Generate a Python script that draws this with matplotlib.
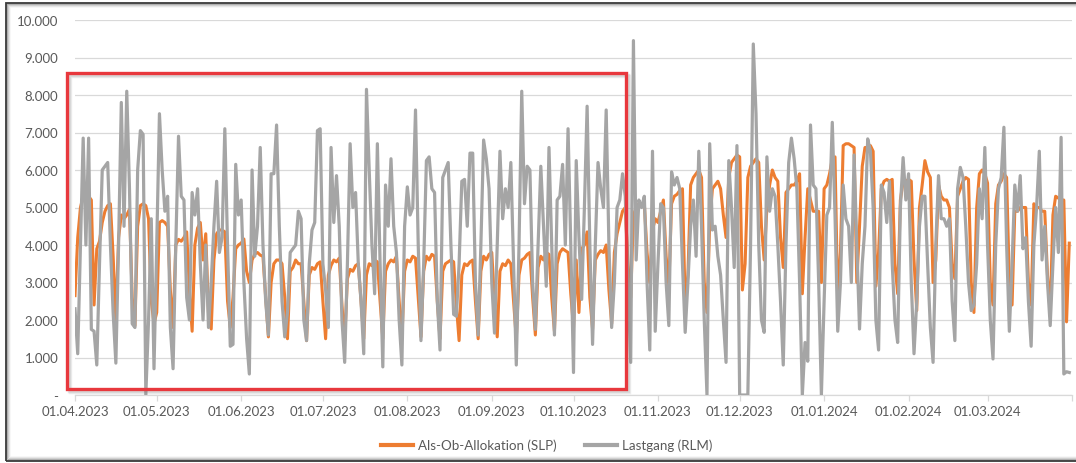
import numpy as np
import pandas as pd
import matplotlib
matplotlib.use("Agg")
import matplotlib.pyplot as plt
from matplotlib.patches import Rectangle

# ----------------------
# Data (daily values, thousands)
# ----------------------
start_date = "2023-04-01"
n_days = 366

# Als-Ob-Allokation (SLP), one row per week (Sat..Fri)
slp = [
    2.65, 4.2, 5.0, 5.3, 5.2, 5.3, 5.2,
    2.4, 3.9, 4.1, 4.6, 4.9, 5.05, 5.1,
    3.7, 2.0, 4.2, 4.8, 4.7, 4.8, 4.95,
    2.6, 1.85, 4.5, 5.05, 5.1, 5.05, 4.7,
    2.5, 1.9, 2.2, 4.6, 4.65, 4.6, 4.5,
    2.8, 1.8, 4.0, 4.15, 4.1, 4.2, 4.35,
    2.8, 1.7, 4.0, 4.45, 4.6, 3.6, 4.3,
    2.2, 1.76, 3.6, 4.3, 4.4, 4.4, 4.35,
    2.5, 1.8, 2.6, 3.9, 4.0, 4.05, 4.16,
    3.3, 3.0, 3.6, 3.76, 3.8, 3.73, 3.7,
    2.6, 1.55, 3.0, 3.5, 3.6, 3.6, 3.5,
    2.6, 1.5, 3.3, 3.4, 3.6, 3.5, 3.5,
    2.5, 1.45, 3.2, 3.4, 3.35, 3.5, 3.55,
    2.5, 1.5, 3.2, 3.45, 3.6, 3.55, 3.65,
    2.4, 1.45, 3.1, 3.35, 3.3, 3.45, 3.5,
    2.5, 1.5, 3.2, 3.5, 3.45, 3.6, 3.55,
    2.5, 1.5, 3.3, 3.5, 3.6, 3.55, 3.7,
    2.5, 1.5, 3.3, 3.6, 3.55, 3.7, 3.65,
    2.6, 1.55, 3.3, 3.7, 3.6, 3.75, 3.7,
    2.5, 1.5, 3.3, 3.5, 3.55, 3.6, 3.55,
    2.4, 1.45, 3.2, 3.5, 3.45, 3.55, 3.6,
    2.5, 1.5, 3.3, 3.7, 3.6, 3.75, 3.8,
    2.5, 1.55, 3.3, 3.5, 3.45, 3.6, 3.5,
    2.5, 1.5, 3.2, 3.6, 3.65, 3.75, 3.8,
    2.6, 1.6, 3.4, 3.7, 3.6, 3.8, 3.75,
    2.6, 1.7, 3.5, 3.8, 3.9, 3.85, 3.8,
    2.7, 1.8, 3.6, 2.2, 3.9, 4.0, 4.35,
    2.6, 1.76, 3.6, 3.75, 3.85, 3.8, 4.0,
    2.8, 1.9, 3.8, 4.3, 4.6, 4.9, 5.0,
    3.5, 2.6, 4.8, 5.0, 5.1, 5.1, 5.1,
    3.8, 3.0, 4.4, 4.7, 4.6, 4.9, 5.2,
    3.7, 2.9, 5.1, 5.3, 5.35, 5.45, 5.5,
    2.4, 3.2, 5.6, 5.8, 5.9, 6.0, 5.8,
    3.0, 2.2, 4.6, 5.5, 5.6, 5.7, 5.5,
    4.8, 4.2, 5.8, 6.2, 6.3, 6.4, 6.35,
    2.8, 3.5, 5.8, 6.1, 6.2, 6.3, 6.2,
    4.5, 3.6, 5.0, 5.6, 6.0, 5.8, 5.7,
    4.2, 3.4, 5.4, 5.5, 5.6, 5.6, 5.7,
    5.9, 2.7, 4.2, 5.5, 5.2, 4.9, 4.9,
    4.9, 3.0, 5.5, 5.6, 5.9, 6.3, 6.35,
    2.5, 3.8, 6.65, 6.7, 6.7, 6.65, 6.6,
    3.0, 4.5, 6.1, 6.6, 6.6, 6.65, 6.5,
    2.9, 3.8, 5.5, 5.7, 5.75, 5.7, 5.75,
    3.5, 2.7, 5.2, 5.7, 5.7, 5.75, 5.7,
    3.6, 2.25, 5.0, 5.6, 6.25, 5.95, 5.8,
    3.0, 3.6, 5.6, 5.3, 5.2, 5.2, 5.0,
    3.5, 3.1, 5.3, 5.5, 5.7, 5.8, 5.75,
    3.0, 2.2, 5.0, 5.9, 6.0, 5.9, 5.65,
    3.0, 2.4, 5.1, 5.6, 5.7, 5.9, 5.8,
    3.0, 2.4, 4.9, 4.9, 5.0, 5.0, 5.0,
    3.0, 2.4, 5.1, 5.0, 5.0, 4.9, 4.9,
    3.2, 2.2, 4.8, 5.3, 5.25, 5.2, 5.2,
    1.95, 4.05,
]

# Lastgang (RLM), ten days per row
rlm = [
    2.3, 1.1, 4.0, 6.85, 4.0, 6.85, 1.75, 1.7, 0.8, 3.5,
    6.0, 6.1, 6.2, 4.0, 2.2, 0.85, 4.0, 7.8, 4.5, 8.1,
    5.5, 1.9, 1.8, 6.0, 7.05, 6.95, 0.0, 2.0, 4.7, 0.7,
    4.0, 7.5, 6.0, 4.9, 5.3, 1.8, 0.7, 4.0, 6.9, 5.3,
    5.2, 2.6, 2.0, 5.4, 4.8, 5.5, 3.5, 2.0, 4.0, 1.8,
    3.0, 4.5, 5.7, 3.8, 4.2, 7.1, 4.0, 1.3, 1.35, 6.15,
    4.8, 5.2, 3.0, 1.5, 0.56, 6.0, 3.7, 4.5, 6.6, 4.0,
    2.5, 1.6, 5.9, 5.9, 7.2, 4.5, 2.5, 1.55, 2.2, 3.8,
    3.9, 4.0, 4.9, 4.7, 2.0, 1.45, 3.5, 4.4, 4.6, 7.05,
    7.1, 3.5, 2.8, 1.8, 6.6, 4.6, 5.85, 4.5, 2.0, 0.87,
    3.5, 6.7, 5.0, 5.4, 3.5, 2.5, 1.1, 8.15, 6.0, 4.0,
    2.7, 6.7, 3.5, 0.75, 5.6, 4.5, 6.3, 4.5, 3.8, 2.0,
    0.8, 4.5, 5.55, 4.8, 5.0, 7.6, 4.0, 1.45, 3.5, 6.25,
    6.35, 5.5, 5.4, 2.5, 1.2, 5.8, 6.0, 6.2, 4.0, 2.15,
    2.1, 3.5, 5.7, 5.75, 4.5, 6.45, 6.45, 3.0, 1.6, 4.0,
    6.8, 6.3, 5.5, 3.0, 1.65, 4.0, 6.5, 4.7, 5.5, 5.0,
    6.2, 3.5, 0.8, 4.0, 8.1, 5.1, 6.1, 6.0, 3.0, 1.75,
    4.0, 6.1, 4.5, 2.9, 6.6, 4.0, 1.6, 5.2, 5.3, 6.15,
    4.0, 7.1, 4.0, 0.6, 6.25, 4.2, 2.55, 5.0, 7.7, 4.0,
    1.35, 4.0, 6.2, 5.5, 5.0, 7.6, 4.0, 1.8, 3.0, 5.0,
    5.2, 5.9, 5.3, 3.0, 0.87, 9.45, 3.6, 5.2, 5.0, 5.3,
    3.0, 1.2, 6.5, 1.7, 3.5, 5.1, 5.0, 3.0, 1.85, 5.95,
    5.6, 5.8, 5.5, 3.5, 1.67, 3.0, 4.5, 5.2, 3.7, 6.5,
    4.5, 2.0, 0.0, 6.7, 4.4, 4.5, 3.7, 3.2, 2.0, 0.87,
    6.25, 5.0, 3.4, 6.65, 0.0, 0.0, 0.0, 0.0, 4.0, 9.36,
    7.5, 4.0, 2.0, 1.67, 6.35, 4.9, 5.5, 5.3, 4.0, 2.5,
    0.8, 4.0, 6.2, 6.85, 6.3, 5.5, 3.0, 0.0, 1.4, 0.9,
    7.2, 5.6, 5.5, 3.0, 0.0, 2.5, 4.8, 5.0, 7.27, 4.8,
    1.7, 3.0, 5.6, 4.7, 4.5, 3.0, 6.4, 4.0, 1.76, 3.5,
    4.5, 6.83, 6.5, 5.0, 2.0, 1.2, 5.6, 5.4, 4.6, 5.7,
    3.5, 2.0, 1.4, 5.0, 6.33, 5.2, 5.9, 3.0, 1.1, 2.5,
    4.5, 5.3, 5.3, 3.5, 1.8, 0.87, 4.0, 5.85, 4.7, 4.7,
    4.5, 4.7, 2.5, 1.45, 5.5, 6.07, 5.8, 4.5, 3.0, 2.25,
    2.4, 3.5, 5.5, 4.7, 6.6, 4.0, 2.0, 0.96, 4.0, 5.5,
    5.8, 7.14, 4.0, 1.7, 3.5, 5.6, 4.9, 5.85, 3.9, 4.2,
    2.5, 1.3, 4.0, 5.0, 6.5, 3.6, 4.5, 3.0, 1.85, 3.5,
    5.0, 3.8, 6.87, 0.56, 0.62, 0.6,
]

y_ticks = [0, 1000, 2000, 3000, 4000, 5000, 6000, 7000, 8000, 9000, 10000]
y_labels = ["-", "1.000", "2.000", "3.000", "4.000", "5.000",
            "6.000", "7.000", "8.000", "9.000", "10.000"]
labels = ["Als-Ob-Allokation (SLP)", "Lastgang (RLM)"]

dates = pd.date_range(start_date, periods=n_days, freq="D")
slp_kwh = np.array(slp) * 1000
rlm_kwh = np.array(rlm) * 1000

# ----------------------
# Plot
# ----------------------
plt.rcParams["font.family"] = ["Lato", "DejaVu Sans"]
txt = "#595959"
grid = "#d9d9d9"

W, H = 1076, 464
fig = plt.figure(figsize=(W / 100, H / 100), dpi=100)
ax = fig.add_axes([75 / W, 1 - 396 / H, 997 / W, 375 / H])

ax.plot(dates, slp_kwh, color="#ED7D31", lw=2.2, label=labels[0],
        solid_joinstyle="round", zorder=3)
ax.plot(dates, rlm_kwh, color="#A5A5A5", lw=2.3, label=labels[1],
        solid_joinstyle="round", zorder=4)

ax.set_xlim(pd.Timestamp("2023-04-01"), pd.Timestamp("2024-04-01"))
ax.set_ylim(0, 10000)
ax.set_yticks(y_ticks)
ax.set_yticklabels(y_labels)
ax.yaxis.grid(True, color=grid, lw=0.9)
ax.set_axisbelow(True)

ticks = pd.date_range("2023-04-01", "2024-04-01", freq="MS")
ax.set_xticks(ticks)
ax.set_xticklabels([d.strftime("%d.%m.%Y") for d in ticks[:-1]] + [""])

for s in ["top", "right", "left"]:
    ax.spines[s].set_visible(False)
ax.spines["bottom"].set_color(grid)
ax.spines["bottom"].set_linewidth(0.9)
ax.tick_params(axis="y", length=0, pad=12, labelsize=9.5, colors=txt)
ax.tick_params(axis="x", length=4, width=0.9, color=grid, pad=3,
               labelsize=9.5, labelcolor=txt)

leg = fig.legend(loc="center", bbox_to_anchor=(547 / W, 1 - 446 / H), ncol=2,
                 frameon=False, fontsize=9.6, handlelength=2.4,
                 handletextpad=0.4, columnspacing=2.1)
for t in leg.get_texts():
    t.set_color(txt)
for h in leg.get_lines():
    h.set_linewidth(3)

# highlight box with soft shadow
x0, x1, y0, y1 = 67, 626, 74, 390
for off, a in [(3, 0.12), (2, 0.2)]:
    fig.patches.append(Rectangle(((x0 + off) / W, 1 - (y1 + off) / H),
                                 (x1 - x0) / W, (y1 - y0) / H,
                                 transform=fig.transFigure, fill=False,
                                 edgecolor="#808080", lw=2.5, alpha=a,
                                 zorder=10))
fig.patches.append(Rectangle((x0 / W, 1 - y1 / H), (x1 - x0) / W, (y1 - y0) / H,
                             transform=fig.transFigure, fill=False,
                             edgecolor="#E8383D", lw=2.4, zorder=11))

# outer frame of the screenshot
fx0, fy0, fx1, fy1 = 6, 4, 1085, 462
for i, a in enumerate([0.25, 0.15, 0.08, 0.04]):
    fig.patches.append(Rectangle(((fx0 + i + 1) / W, 1 - (fy1 - i - 1) / H),
                                 (fx1 - fx0) / W, (fy1 - fy0 - 2 * i - 2) / H,
                                 transform=fig.transFigure, fill=False,
                                 edgecolor="#000000", lw=1.2, alpha=a,
                                 zorder=9))
fig.patches.append(Rectangle((fx0 / W, 1 - fy1 / H), (fx1 - fx0) / W,
                             (fy1 - fy0) / H, transform=fig.transFigure,
                             fill=False, edgecolor="#3a3a3a", lw=1.3, zorder=9))

fig.savefig("out.png", dpi=100, facecolor="white")
